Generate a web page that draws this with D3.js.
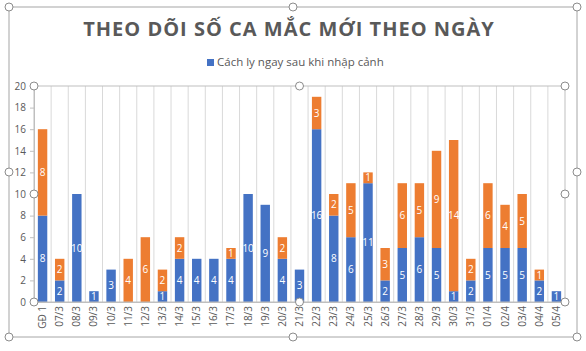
<!DOCTYPE html>
<html>
<head>
<meta charset="utf-8">
<script src="https://cdn.jsdelivr.net/npm/d3@7"></script>
<style>
  body { margin: 0; background: #fff; }
  text { font-family: "Open Sans", "Liberation Sans", sans-serif; }
</style>
</head>
<body>
<div id="chart"></div>
<script>
// data
var days = ["GĐ 1", "07/3", "08/3", "09/3", "10/3", "11/3", "12/3", "13/3", "14/3", "15/3",
  "16/3", "17/3", "18/3", "19/3", "20/3", "21/3", "22/3", "23/3", "24/3", "25/3",
  "26/3", "27/3", "28/3", "29/3", "30/3", "31/3", "01/4", "02/4", "03/4", "04/4", "05/4"];
var quarantined = [8, 2, 10, 1, 3, 0, 0, 1, 4, 4, 4, 4, 10, 9, 4, 3, 16, 8, 6, 11, 2, 5, 6, 5, 1, 2, 5, 5, 5, 2, 1];
var others = [8, 2, 0, 0, 0, 4, 6, 2, 2, 0, 0, 1, 0, 0, 2, 0, 3, 2, 5, 1, 3, 6, 5, 9, 14, 2, 6, 4, 5, 1, 0];
var yTicks = [0, 2, 4, 6, 8, 10, 12, 14, 16, 18, 20];
var seriesNames = ["Cách ly ngay sau khi nhập cảnh", ""];

var W = 586, H = 351;
var margin = { top: 86, right: 21, bottom: 49, left: 34 },
  width = W - margin.left - margin.right,
  height = H - margin.top - margin.bottom;

var colors = ["#4472C4", "#ED7D31"];

var root = d3.select("#chart").append("svg")
  .attr("width", W).attr("height", H);

// outer chart frame
root.append("rect")
  .attr("x", 9).attr("y", 7).attr("width", 568).attr("height", 330)
  .attr("fill", "none").attr("stroke", "#a6a6a6").attr("stroke-width", 1);

// title
root.append("text")
  .attr("x", 289).attr("y", 36)
  .attr("text-anchor", "middle")
  .style("font-size", "20px").style("font-weight", "bold")
  .style("letter-spacing", "1px")
  .style("fill", "#595959")
  .text("THEO DÕI SỐ CA MẮC MỚI THEO NGÀY");

// legend (only the blue series is listed)
var lg = root.append("g").attr("transform", "translate(207,59)");
lg.append("rect").attr("width", 7).attr("height", 7).attr("fill", colors[0]);
lg.append("text").attr("x", 10).attr("y", 7)
  .style("font-size", "11.5px").style("fill", "#595959")
  .text(seriesNames[0]);

var svg = root.append("g")
  .attr("transform", "translate(" + margin.left + "," + margin.top + ")");

var x = d3.scaleBand().domain(days).range([0, width]).paddingInner(0.45).paddingOuter(0.225);
var y = d3.scaleLinear().domain([0, 20]).range([height, 0]);

// vertical gridlines at category boundaries
var step = x.step();
svg.selectAll(".vgrid")
  .data(days.slice(1))
  .enter().append("line")
  .attr("x1", function (d) { return x(d) - step * 0.225; })
  .attr("x2", function (d) { return x(d) - step * 0.225; })
  .attr("y1", 0).attr("y2", height)
  .attr("stroke", "#d9d9d9");

// stacked data
var rows = days.map(function (d, i) {
  return { day: d, a: quarantined[i], b: others[i] };
});
var stacked = d3.stack().keys(["a", "b"])(rows);

var layers = svg.selectAll(".layer")
  .data(stacked)
  .enter().append("g")
  .attr("fill", function (d, i) { return colors[i]; });

layers.selectAll("rect")
  .data(function (d) { return d; })
  .enter().append("rect")
  .attr("x", function (d) { return x(d.data.day); })
  .attr("width", x.bandwidth())
  .attr("y", function (d) { return y(d[1]); })
  .attr("height", function (d) { return y(d[0]) - y(d[1]); });

layers.selectAll("text")
  .data(function (d) { return d.filter(function (s) { return s[1] - s[0] > 0; }); })
  .enter().append("text")
  .attr("x", function (d) { return x(d.data.day) + x.bandwidth() / 2; })
  .attr("y", function (d) { return (y(d[0]) + y(d[1])) / 2; })
  .attr("dy", "0.35em")
  .attr("text-anchor", "middle")
  .style("font-size", "10px")
  .style("fill", "#fff")
  .text(function (d) { return d[1] - d[0]; });

// y axis
var yAxis = svg.append("g")
  .call(d3.axisLeft(y).tickValues(yTicks).tickSize(4).tickPadding(4));
yAxis.selectAll("text").style("font-size", "10px").style("fill", "#595959");
yAxis.selectAll("line").attr("stroke", "#bfbfbf");
yAxis.select(".domain").attr("stroke", "#bfbfbf");

// x axis
var xAxis = svg.append("g")
  .attr("transform", "translate(0," + height + ")")
  .call(d3.axisBottom(x).tickSize(0).tickPadding(4));
xAxis.select(".domain").attr("stroke", "#bfbfbf");
xAxis.selectAll("text")
  .style("font-size", "10px").style("fill", "#595959")
  .attr("text-anchor", "end")
  .attr("transform", "rotate(-90)")
  .attr("x", -4).attr("y", 0).attr("dy", "0.35em");

// plot-area selection outline
svg.append("rect")
  .attr("width", width).attr("height", height)
  .attr("fill", "none").attr("stroke", "#bfbfbf");

// selection handles
function handles(g, x0, y0, w, h) {
  var pts = [[x0, y0], [x0 + w / 2, y0], [x0 + w, y0], [x0, y0 + h / 2], [x0 + w, y0 + h / 2],
    [x0, y0 + h], [x0 + w / 2, y0 + h], [x0 + w, y0 + h]];
  g.selectAll(null).data(pts).enter().append("circle")
    .attr("cx", function (d) { return d[0]; })
    .attr("cy", function (d) { return d[1]; })
    .attr("r", 4)
    .attr("fill", "#fff").attr("stroke", "#8c8c8c");
}
handles(root.append("g"), margin.left, margin.top, width, height);
handles(root.append("g"), 9, 7, 568, 330);
</script>
</body>
</html>
